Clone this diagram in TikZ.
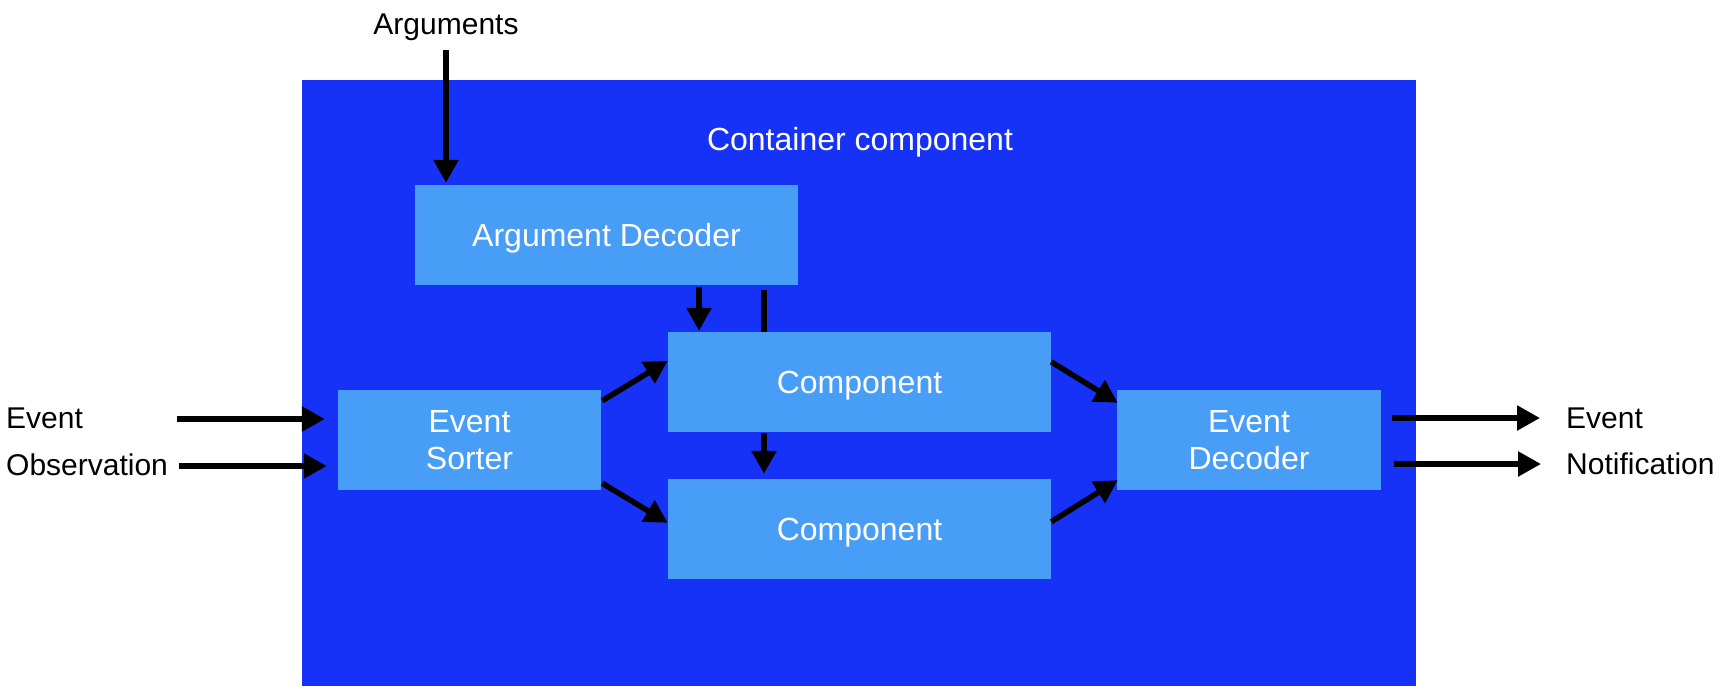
\documentclass[tikz,border=0pt]{standalone}
\usepackage{fontspec}
\setmainfont{Liberation Sans}
\usetikzlibrary{arrows.meta,calc}
\definecolor{contblue}{RGB}{22,50,247}
\definecolor{boxblue}{RGB}{72,158,247}
\tikzset{
  outertext/.style={inner sep=0pt, font=\fontsize{30}{35}\selectfont, text=black, text depth=0pt},
  blockbox/.style={fill=boxblue, draw=none, inner sep=0pt, minimum height=100pt,
    text=white, align=center, font=\fontsize{32}{37}\selectfont},
  oneline/.style={text depth=0pt},
  arr/.style={line width=5.5pt, -{Triangle[width=24pt,length=23pt]}},
  ln/.style={line width=5.5pt},
}
\begin{document}
\begin{tikzpicture}[x=1pt,y=-1pt]
\useasboundingbox (0,0) rectangle (1719,686);
% container
\node[fill=contblue, draw=none, inner sep=0pt, minimum width=1114pt, minimum height=606pt, anchor=north west] (cont) at (302,80) {};
\node[inner sep=0pt, text=white, font=\fontsize{32}{37}\selectfont, oneline] (conttitle) at (860,139) {Container component};
% blocks
\node[blockbox, oneline, minimum width=383pt] (ad) at (606.5,235) {Argument Decoder};
\node[blockbox, oneline, minimum width=383pt] (c1) at (859.5,382) {Component};
\node[blockbox, oneline, minimum width=383pt] (c2) at (859.5,529) {Component};
\node[blockbox, minimum width=263pt] (es) at (469.5,440) {Event\\Sorter};
\node[blockbox, minimum width=264pt] (ed) at (1249,440) {Event\\Decoder};
% outer labels
\node[outertext] (args) at (446,24) {Arguments};
\node[outertext, anchor=west] (evin) at (6,418) {Event};
\node[outertext, anchor=west] (obsin) at (6,465) {Observation};
\node[outertext, anchor=west] (evout) at (1566,418) {Event};
\node[outertext, anchor=west] (notout) at (1566,464) {Notification};
% helper coordinates
\coordinate (argsrc) at (446,50);
\coordinate (xa) at (699,0);
\coordinate (xb) at (764,0);
\coordinate (evsrc) at (177,419);
\coordinate (obssrc) at (179,466);
\coordinate (evdst) at (1540,418);
\coordinate (notdst) at (1541,464);
% connectors
\draw[arr] (argsrc) -- ($(ad.north -| argsrc)+(0,-2)$);
\draw[arr] ($(ad.south -| xa)+(0,2)$) -- ($(c1.north -| xa)+(0,-1)$);
\draw[ln] ($(ad.south -| xb)+(0,5)$) -- (c1.north -| xb);
\draw[arr] ($(c1.south -| xb)+(0,1)$) -- ($(c2.north -| xb)+(0,-5)$);
\draw[arr] (evsrc) -- ($(evsrc -| es.west)+(-13,0)$);
\draw[arr] (obssrc) -- ($(obssrc -| es.west)+(-11,0)$);
\draw[arr] ($(es.north east)+(1,11)$) -- ($(c1.north west)+(0,29)$);
\draw[arr] ($(es.south east)+(1,-7)$) -- ($(c2.north west)+(0,44)$);
\draw[arr] ($(c1.north east)+(0,30)$) -- ($(ed.north west)+(1,13)$);
\draw[arr] ($(c2.north east)+(0,43)$) -- ($(ed.south west)+(1,-10)$);
\draw[arr] ($(evdst -| ed.east)+(11,0)$) -- (evdst);
\draw[arr] ($(notdst -| ed.east)+(13,0)$) -- (notdst);
\end{tikzpicture}
\end{document}
